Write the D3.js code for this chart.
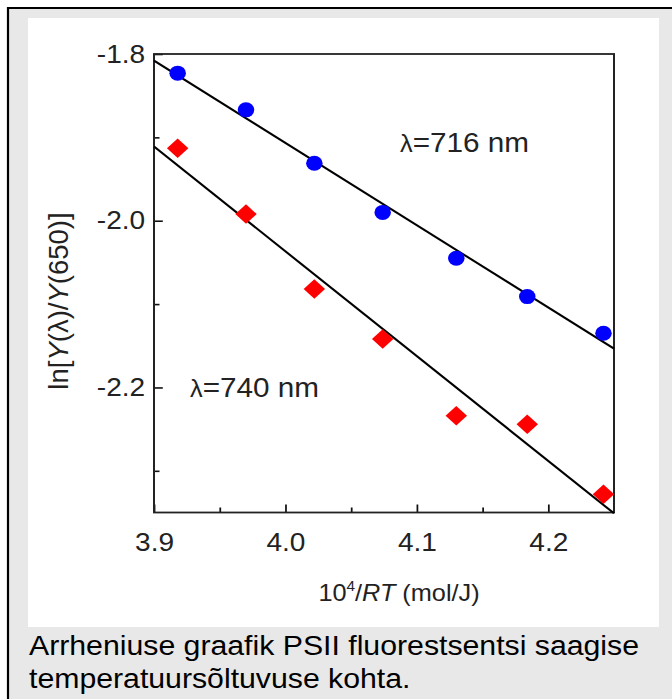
<!DOCTYPE html>
<html>
<head>
<meta charset="utf-8">
<script src="https://cdn.jsdelivr.net/npm/d3@7"></script>
<style>
  html, body { margin: 0; padding: 0; background: #fff; overflow: hidden; }
  svg { display: block; }
</style>
</head>
<body>
<script>
// data
const temps = [3.918, 3.970, 4.022, 4.074, 4.130, 4.184, 4.242];      // 10^4/RT
const y716 = [-1.823, -1.867, -1.931, -1.990, -2.045, -2.091, -2.135];
const y740 = [-1.913, -1.992, -2.082, -2.142, -2.234, -2.244, -2.328];
const fitX = [3.9, 4.25];
const fit716 = [-1.808, -2.1535];
const fit740 = [-1.911, -2.351];
const xTicks = [3.9, 4.0, 4.1, 4.2];
const xMinor = [3.95, 4.05, 4.15];
const yTicks = [-1.8, -2.0, -2.2];
const yMinor = [-1.9, -2.1, -2.3];
const caption = ["Arrheniuse graafik PSII fluorestsentsi saagise", "temperatuursõltuvuse kohta."];

const W = 672, H = 699;
const SX = 1.1;          // the scanned figure is stretched a little sideways
const px = v => v / SX;  // screen x -> viewBox x
const FONT = "'Liberation Sans', Arial, Helvetica, sans-serif";

const svg = d3.select("body").append("svg")
    .attr("width", W)
    .attr("height", H)
    .attr("viewBox", `0 0 ${W / SX} ${H}`)
    .attr("preserveAspectRatio", "none");

// grey frame and white panel
svg.append("rect")
    .attr("x", px(8)).attr("y", 8)
    .attr("width", px(W + 20)).attr("height", H + 20)
    .attr("fill", "#e8e8e8")
    .attr("stroke", "#000")
    .attr("stroke-width", 2);

svg.append("rect")
    .attr("x", px(28)).attr("y", 18)
    .attr("width", px(659 - 28)).attr("height", 627 - 18)
    .attr("fill", "#fff");

const x = d3.scaleLinear().domain([3.9, 4.25]).range([px(154), px(614)]);
const y = d3.scaleLinear().domain([-1.8, -2.35]).range([54, 512.5]);

const fmt = d => d.toFixed(1);

// axes, ticks inside
svg.append("g")
    .attr("transform", `translate(0,${y.range()[1]})`)
    .call(d3.axisBottom(x).tickValues(xTicks).tickFormat(fmt)
        .tickSizeInner(-8).tickSizeOuter(0).tickPadding(20));
svg.append("g")
    .attr("transform", `translate(0,${y.range()[1]})`)
    .call(d3.axisBottom(x).tickValues(xMinor).tickFormat("")
        .tickSizeInner(-5).tickSizeOuter(0));

svg.append("g")
    .attr("transform", `translate(${x.range()[0]},0)`)
    .call(d3.axisLeft(y).tickValues(yTicks).tickFormat(fmt)
        .tickSizeInner(-8).tickSizeOuter(0).tickPadding(8));
svg.append("g")
    .attr("transform", `translate(${x.range()[0]},0)`)
    .call(d3.axisLeft(y).tickValues(yMinor).tickFormat("")
        .tickSizeInner(-5).tickSizeOuter(0));

svg.selectAll(".domain").remove();
svg.selectAll(".tick line").attr("stroke", "#111").attr("stroke-width", 1.6);
svg.selectAll(".tick text")
    .attr("fill", "#222")
    .style("font-family", FONT)
    .style("font-size", "25.5px");

// plot box
svg.append("rect")
    .attr("x", x.range()[0]).attr("y", y.range()[0])
    .attr("width", x.range()[1] - x.range()[0])
    .attr("height", y.range()[1] - y.range()[0])
    .attr("fill", "none")
    .attr("stroke", "#222")
    .attr("stroke-width", 1.8);

// fitted lines
const line = d3.line().x(d => x(d[0])).y(d => y(d[1]));
[fit716, fit740].forEach(f => {
    svg.append("path")
        .datum(fitX.map((t, i) => [t, f[i]]))
        .attr("d", line)
        .attr("fill", "none")
        .attr("stroke", "#000")
        .attr("stroke-width", 2);
});

// points
svg.append("g")
    .selectAll("circle")
    .data(temps.map((t, i) => [t, y716[i]]))
    .join("circle")
    .attr("cx", d => x(d[0]))
    .attr("cy", d => y(d[1]))
    .attr("r", 7.5)
    .attr("fill", "#0000ff");

const diamond = d3.symbol().type(d3.symbolSquare).size(190);
svg.append("g")
    .selectAll("path")
    .data(temps.map((t, i) => [t, y740[i]]))
    .join("path")
    .attr("d", diamond)
    .attr("transform", d => `translate(${x(d[0])},${y(d[1])}) rotate(45)`)
    .attr("fill", "#ff0000");

// series labels
const label = (tx, ty, nm) => {
    const t = svg.append("text")
        .attr("x", tx).attr("y", ty)
        .attr("fill", "#222")
        .style("font-family", FONT)
        .style("font-size", "27px");
    t.append("tspan").style("font-size", "23px").text("λ");
    t.append("tspan").text("=" + nm + " nm");
};
label(px(400), 152, "716");
label(px(190), 397, "740");

// axis titles
const xt = svg.append("text")
    .attr("x", px(399)).attr("y", 601)
    .attr("text-anchor", "middle")
    .attr("fill", "#222")
    .style("font-family", FONT)
    .style("font-size", "23px");
xt.append("tspan").text("10");
xt.append("tspan").attr("dy", -10).style("font-size", "14px").text("4");
xt.append("tspan").attr("dy", 10).text("/");
xt.append("tspan").style("font-style", "italic").text("RT");
xt.append("tspan").text(" (mol/J)");

const yt = svg.append("text")
    .attr("transform", `translate(${px(68)},301) scale(${1 / SX},1) rotate(-90)`)
    .attr("text-anchor", "middle")
    .attr("fill", "#222")
    .style("font-family", FONT)
    .style("font-size", "27.5px");
yt.append("tspan").text("ln[");
yt.append("tspan").style("font-style", "italic").text("Y");
yt.append("tspan").text("(λ)/");
yt.append("tspan").style("font-style", "italic").text("Y");
yt.append("tspan").text("(650)]");

// caption
svg.append("g")
    .selectAll("text")
    .data(caption)
    .join("text")
    .attr("x", px(29))
    .attr("y", (d, i) => 655 + i * 33)
    .attr("fill", "#000")
    .style("font-family", FONT)
    .style("font-size", "27.5px")
    .text(d => d);
</script>
</body>
</html>
